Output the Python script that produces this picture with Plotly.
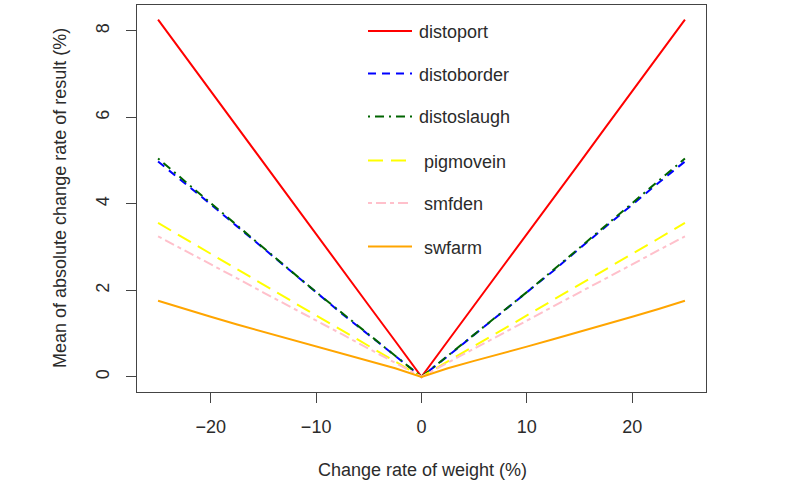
import plotly.graph_objects as go

# ---- data ----
x_vals = [-25, -22.5, -20, -17.5, -15, -12.5, -10, -7.5, -5, -2.5, 0,
          2.5, 5, 7.5, 10, 12.5, 15, 17.5, 20, 22.5, 25]

distoport = [8.26, 7.43, 6.60, 5.78, 4.95, 4.13, 3.30, 2.48, 1.65, 0.83, 0.0,
             0.83, 1.65, 2.48, 3.30, 4.13, 4.95, 5.78, 6.60, 7.43, 8.26]
distoborder = [4.98, 4.49, 3.99, 3.48, 2.97, 2.45, 1.95, 1.45, 0.97, 0.48, 0.0,
               0.48, 0.97, 1.45, 1.95, 2.45, 2.97, 3.48, 3.99, 4.49, 4.98]
distoslaugh = [5.05, 4.53, 4.02, 3.50, 2.99, 2.47, 1.96, 1.46, 0.98, 0.49, 0.0,
               0.49, 0.98, 1.46, 1.96, 2.47, 2.99, 3.50, 4.02, 4.53, 5.05]
pigmovein = [3.56, 3.20, 2.84, 2.49, 2.13, 1.78, 1.42, 1.07, 0.71, 0.36, 0.0,
             0.36, 0.71, 1.07, 1.42, 1.78, 2.13, 2.49, 2.84, 3.20, 3.56]
smfden = [3.25, 2.93, 2.60, 2.28, 1.95, 1.63, 1.30, 0.98, 0.65, 0.33, 0.0,
          0.33, 0.65, 0.98, 1.30, 1.63, 1.95, 2.28, 2.60, 2.93, 3.25]
swfarm = [1.76, 1.57, 1.39, 1.21, 1.04, 0.87, 0.70, 0.53, 0.37, 0.20, 0.0,
          0.20, 0.37, 0.53, 0.70, 0.87, 1.04, 1.21, 1.39, 1.57, 1.76]

series_names = ["distoport", "distoborder", "distoslaugh", "pigmovein", "smfden", "swfarm"]
series_values = [distoport, distoborder, distoslaugh, pigmovein, smfden, swfarm]
series_colors = ["#FF0000", "#0000FF", "#006400", "#FFFF00", "#FFC0CB", "#FFA500"]
series_dash = ["solid", "8px,6px", "2px,5px,9px,5px", "15px,8px", "4px,4px,10px,4px", "solid"]

x_ticks = [-20, -10, 0, 10, 20]
y_ticks = [0, 2, 4, 6, 8]

# ---- layout geometry (pixels) ----
W, H = 800, 487
L, R, T, B = 137, 706, 5, 392
FONT = "Liberation Sans, Arial, sans-serif"
TXT = "#2b2b2b"
AX = "#444444"


def px_x(px):
    return (px - L) / (R - L)


def px_y(py):
    return (B - py) / (B - T)


fig = go.Figure()
for name, vals, col, dash in zip(series_names, series_values, series_colors, series_dash):
    fig.add_trace(go.Scatter(x=x_vals, y=vals, mode="lines", name=name,
                             line=dict(color=col, width=2, dash=dash),
                             showlegend=False))

# manual legend (R-style, no box)
leg_line_y = [31, 73.5, 116.5, 160.5, 203, 246.5]
leg_text_x = [417, 417, 417, 422, 422, 422]
shapes = []
annotations = []
for i, (name, col, dash) in enumerate(zip(series_names, series_colors, series_dash)):
    yy = px_y(leg_line_y[i])
    shapes.append(dict(type="line", xref="paper", yref="paper",
                       x0=px_x(368), x1=px_x(412), y0=yy, y1=yy,
                       line=dict(color=col, width=2, dash=dash)))
    annotations.append(dict(xref="paper", yref="paper", x=px_x(leg_text_x[i]),
                            y=px_y(leg_line_y[i] + 1), text=name, showarrow=False,
                            xanchor="left", yanchor="middle",
                            font=dict(family=FONT, size=18, color=TXT)))

# axis titles
annotations.append(dict(xref="paper", yref="paper", x=px_x(422), y=px_y(470),
                        text="Change rate of weight (%)", showarrow=False,
                        xanchor="center", yanchor="middle",
                        font=dict(family=FONT, size=18, color=TXT)))
annotations.append(dict(xref="paper", yref="paper", x=px_x(60), y=px_y(198),
                        text="Mean of absolute change rate of result (%)", showarrow=False,
                        textangle=-90, xanchor="center", yanchor="middle",
                        font=dict(family=FONT, size=18, color=TXT)))

fig.update_layout(
    width=W, height=H,
    margin=dict(l=L, r=W - R, t=T, b=H - B, pad=0),
    paper_bgcolor="white", plot_bgcolor="white",
    shapes=shapes, annotations=annotations,
    showlegend=False,
    xaxis=dict(range=[-27, 27], tickvals=x_ticks, ticks="outside", ticklen=10,
               tickwidth=1.3, tickcolor=AX, showline=True, linecolor=AX, linewidth=1.3,
               mirror=True, showgrid=False, zeroline=False,
               tickfont=dict(family=FONT, size=18, color=TXT), ticklabelstandoff=8),
    yaxis=dict(range=[-0.35, 8.6], tickvals=y_ticks, ticks="outside", ticklen=10,
               tickwidth=1.3, tickcolor=AX, showline=True, linecolor=AX, linewidth=1.3,
               mirror=True, showgrid=False, zeroline=False, tickangle=-90,
               tickfont=dict(family=FONT, size=18, color=TXT), ticklabelstandoff=10),
)

fig.write_html("out.html",
               config={"displayModeBar": False},
               post_script="document.body.style.margin='0';document.body.style.overflow='hidden';")
